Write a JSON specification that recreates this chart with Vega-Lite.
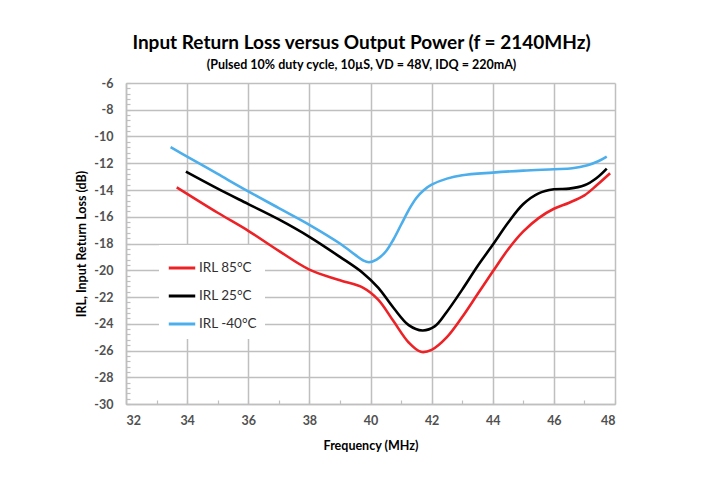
{
  "$schema": "https://vega.github.io/schema/vega-lite/v6.json",
  "width": 489,
  "height": 321,
  "autosize": "none",
  "padding": {"left": 126, "top": 83, "right": 112, "bottom": 81},
  "background": "white",
  "title": {
    "text": "Input Return Loss versus Output Power (f = 2140MHz)",
    "subtitle": "(Pulsed 10% duty cycle, 10µS, VD = 48V, IDQ = 220mA)",
    "anchor": "middle",
    "dx": -9,
    "font": "Lato",
    "fontSize": 19,
    "fontWeight": "bold",
    "color": "#000000",
    "subtitleFont": "Lato",
    "subtitleFontSize": 12.5,
    "subtitleFontWeight": "bold",
    "subtitleColor": "#000000",
    "subtitlePadding": 6,
    "offset": 6
  },
  "data": {
    "values": [
      {"series": "IRL 85°C", "f": 33.66, "irl": -13.8},
      {"series": "IRL 85°C", "f": 35, "irl": -15.7},
      {"series": "IRL 85°C", "f": 36, "irl": -17.05},
      {"series": "IRL 85°C", "f": 37, "irl": -18.55},
      {"series": "IRL 85°C", "f": 38, "irl": -19.95},
      {"series": "IRL 85°C", "f": 39, "irl": -20.75},
      {"series": "IRL 85°C", "f": 39.75, "irl": -21.3},
      {"series": "IRL 85°C", "f": 40.25, "irl": -22.2},
      {"series": "IRL 85°C", "f": 40.75, "irl": -23.8},
      {"series": "IRL 85°C", "f": 41.25, "irl": -25.4},
      {"series": "IRL 85°C", "f": 41.65, "irl": -26.1},
      {"series": "IRL 85°C", "f": 42, "irl": -25.95},
      {"series": "IRL 85°C", "f": 42.5, "irl": -25.0},
      {"series": "IRL 85°C", "f": 43, "irl": -23.5},
      {"series": "IRL 85°C", "f": 43.5, "irl": -21.8},
      {"series": "IRL 85°C", "f": 44, "irl": -20.1},
      {"series": "IRL 85°C", "f": 44.5, "irl": -18.45},
      {"series": "IRL 85°C", "f": 45, "irl": -17.1},
      {"series": "IRL 85°C", "f": 45.5, "irl": -16.1},
      {"series": "IRL 85°C", "f": 46, "irl": -15.4},
      {"series": "IRL 85°C", "f": 46.5, "irl": -14.95},
      {"series": "IRL 85°C", "f": 47, "irl": -14.4},
      {"series": "IRL 85°C", "f": 47.4, "irl": -13.65},
      {"series": "IRL 85°C", "f": 47.84, "irl": -12.75},
      {"series": "IRL 25°C", "f": 33.96, "irl": -12.63},
      {"series": "IRL 25°C", "f": 35, "irl": -13.9},
      {"series": "IRL 25°C", "f": 36, "irl": -15.05},
      {"series": "IRL 25°C", "f": 37, "irl": -16.2},
      {"series": "IRL 25°C", "f": 38, "irl": -17.5},
      {"series": "IRL 25°C", "f": 39, "irl": -19.0},
      {"series": "IRL 25°C", "f": 39.75, "irl": -20.2},
      {"series": "IRL 25°C", "f": 40.25, "irl": -21.3},
      {"series": "IRL 25°C", "f": 40.75, "irl": -22.8},
      {"series": "IRL 25°C", "f": 41.25, "irl": -24.1},
      {"series": "IRL 25°C", "f": 41.7, "irl": -24.5},
      {"series": "IRL 25°C", "f": 42.1, "irl": -24.2},
      {"series": "IRL 25°C", "f": 42.5, "irl": -23.1},
      {"series": "IRL 25°C", "f": 43, "irl": -21.45},
      {"series": "IRL 25°C", "f": 43.5, "irl": -19.7},
      {"series": "IRL 25°C", "f": 44, "irl": -18.1},
      {"series": "IRL 25°C", "f": 44.5, "irl": -16.45},
      {"series": "IRL 25°C", "f": 45, "irl": -15.05},
      {"series": "IRL 25°C", "f": 45.5, "irl": -14.25},
      {"series": "IRL 25°C", "f": 46, "irl": -13.95},
      {"series": "IRL 25°C", "f": 46.5, "irl": -13.9},
      {"series": "IRL 25°C", "f": 47, "irl": -13.65},
      {"series": "IRL 25°C", "f": 47.4, "irl": -13.1},
      {"series": "IRL 25°C", "f": 47.73, "irl": -12.4},
      {"series": "IRL -40°C", "f": 33.46, "irl": -10.8},
      {"series": "IRL -40°C", "f": 34, "irl": -11.5},
      {"series": "IRL -40°C", "f": 35, "irl": -12.8},
      {"series": "IRL -40°C", "f": 36, "irl": -14.1},
      {"series": "IRL -40°C", "f": 37, "irl": -15.35},
      {"series": "IRL -40°C", "f": 38, "irl": -16.6},
      {"series": "IRL -40°C", "f": 39, "irl": -18.0},
      {"series": "IRL -40°C", "f": 39.5, "irl": -18.85},
      {"series": "IRL -40°C", "f": 39.75, "irl": -19.25},
      {"series": "IRL -40°C", "f": 39.95, "irl": -19.4},
      {"series": "IRL -40°C", "f": 40.2, "irl": -19.2},
      {"series": "IRL -40°C", "f": 40.5, "irl": -18.6},
      {"series": "IRL -40°C", "f": 40.75, "irl": -17.7},
      {"series": "IRL -40°C", "f": 41, "irl": -16.6},
      {"series": "IRL -40°C", "f": 41.25, "irl": -15.5},
      {"series": "IRL -40°C", "f": 41.5, "irl": -14.6},
      {"series": "IRL -40°C", "f": 41.75, "irl": -14.0},
      {"series": "IRL -40°C", "f": 42, "irl": -13.6},
      {"series": "IRL -40°C", "f": 42.5, "irl": -13.15},
      {"series": "IRL -40°C", "f": 43, "irl": -12.9},
      {"series": "IRL -40°C", "f": 44, "irl": -12.7},
      {"series": "IRL -40°C", "f": 45, "irl": -12.55},
      {"series": "IRL -40°C", "f": 46, "irl": -12.45},
      {"series": "IRL -40°C", "f": 46.6, "irl": -12.38},
      {"series": "IRL -40°C", "f": 47.1, "irl": -12.15},
      {"series": "IRL -40°C", "f": 47.45, "irl": -11.85},
      {"series": "IRL -40°C", "f": 47.73, "irl": -11.5}
    ]
  },
  "mark": {"type": "line", "interpolate": "catmull-rom", "strokeWidth": 2.6},
  "encoding": {
    "x": {
      "field": "f",
      "type": "quantitative",
      "scale": {"domain": [32, 48], "nice": false, "zero": false},
      "axis": {
        "title": "Frequency (MHz)",
        "values": [32, 33, 34, 35, 36, 37, 38, 39, 40, 41, 42, 43, 44, 45, 46, 47, 48],
        "labelExpr": "datum.value % 2 === 0 ? '' + datum.value : ''",
        "gridOpacity": {"condition": {"test": "datum.value % 2 === 0", "value": 1}, "value": 0},
        "tickSize": -4,
        "labelPadding": 14,
        "titlePadding": 13
      }
    },
    "y": {
      "field": "irl",
      "type": "quantitative",
      "scale": {"domain": [-30, -6], "nice": false, "zero": false},
      "axis": {
        "title": "IRL, Input Return Loss (dB)",
        "values": [-30, -29.6, -29.2, -28.8, -28.4, -28, -27.6, -27.2, -26.8, -26.4, -26, -25.6, -25.2, -24.8, -24.4, -24, -23.6, -23.2, -22.8, -22.4, -22, -21.6, -21.2, -20.8, -20.4, -20, -19.6, -19.2, -18.8, -18.4, -18, -17.6, -17.2, -16.8, -16.4, -16, -15.6, -15.2, -14.8, -14.4, -14, -13.6, -13.2, -12.8, -12.4, -12, -11.6, -11.2, -10.8, -10.4, -10, -9.6, -9.2, -8.8, -8.4, -8, -7.6, -7.2, -6.8, -6.4, -6],
        "labelExpr": "datum.value % 2 === 0 ? '' + datum.value : ''",
        "gridOpacity": {"condition": {"test": "datum.value % 2 === 0", "value": 1}, "value": 0},
        "tickSize": -4,
        "labelPadding": 17,
        "titlePadding": 5
      }
    },
    "color": {
      "field": "series",
      "type": "nominal",
      "scale": {"domain": ["IRL 85°C", "IRL 25°C", "IRL -40°C"], "range": ["#EC2227", "#000000", "#4DAEEC"]},
      "legend": {
        "title": null,
        "orient": "none",
        "legendX": 33,
        "legendY": 162,
        "fillColor": "white",
        "padding": 8,
        "symbolType": "stroke",
        "symbolSize": 700,
        "symbolStrokeWidth": 3,
        "labelFont": "Lato",
        "labelFontSize": 13.5,
        "labelColor": "#303030",
        "rowPadding": 6,
        "labelOffset": 2
      }
    }
  },
  "config": {
    "view": {"stroke": null},
    "axis": {
      "labelFont": "Lato",
      "labelFontSize": 12.5,
      "labelFontWeight": "bold",
      "labelColor": "#505050",
      "titleFont": "Lato",
      "titleFontSize": 12.5,
      "titleFontWeight": "bold",
      "titleColor": "#000000",
      "gridColor": "#BFBFBF",
      "gridWidth": 1.5,
      "domainColor": "#BFBFBF",
      "domainWidth": 1.5,
      "tickColor": "#BFBFBF",
      "tickWidth": 1.2
    }
  }
}
